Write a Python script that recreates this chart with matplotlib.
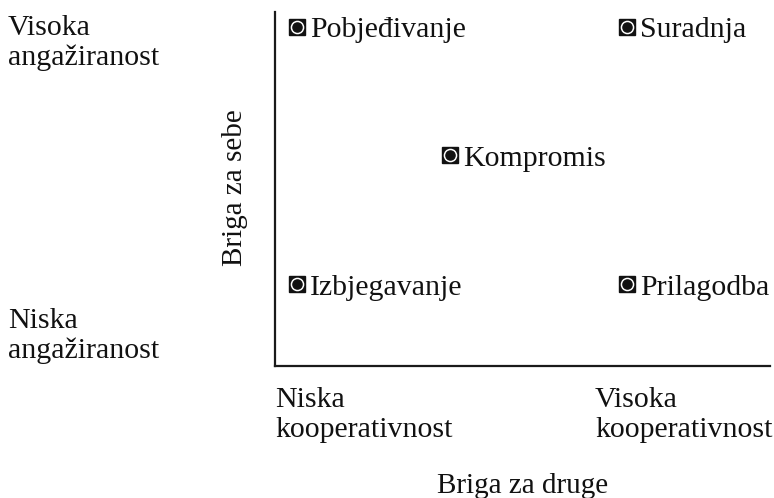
import matplotlib
matplotlib.use("Agg")
import matplotlib.pyplot as plt

plt.rcParams['font.family'] = ['Liberation Serif', 'DejaVu Serif']

styles = ["Pobjeđivanje", "Suradnja", "Kompromis", "Izbjegavanje", "Prilagodba"]
concern_others = [1, 5, 2.86, 1, 5]
concern_self = [5, 5, 3, 1, 1]

y_labels = [["Niska", "angažiranost"], ["Visoka", "angažiranost"]]
x_labels = [["Niska", "kooperativnost"], ["Visoka", "kooperativnost"]]
x_title = "Briga za druge"
y_title = "Briga za sebe"

W, H = 774, 498
fig = plt.figure(figsize=(W / 100, H / 100), dpi=100)
ax = fig.add_axes([275 / W, 1 - 366 / H, (770 - 275) / W, (366 - 12) / H])
ax.set_xlim(0.739, 6.739)
ax.set_ylim(-0.264, 5.225)
for s in ["top", "right"]:
    ax.spines[s].set_visible(False)
for s in ["left", "bottom"]:
    ax.spines[s].set_linewidth(1.6)
    ax.spines[s].set_color("#1a1a1a")
ax.set_xticks([])
ax.set_yticks([])

ax.plot(concern_others, concern_self, ls="none", marker="s", ms=11.5, mfc="#111111", mec="#111111")
ax.plot(concern_others, concern_self, ls="none", marker="o", ms=8.8, mfc="white", mec="white")
ax.plot(concern_others, concern_self, ls="none", marker="o", ms=6.6, mfc="#111111", mec="#111111")

fs = 21.5
col = "#111111"
for name, x, y in zip(styles, concern_others, concern_self):
    ax.annotate(name, (x, y), xytext=(9.5, -7.3), textcoords="offset points",
                ha="left", va="baseline", fontsize=fs, color=col)


def lines(x, y0, texts, ha="left"):
    for i, t in enumerate(texts):
        fig.text(x / W, 1 - (y0 + 30 * i) / H, t, ha=ha, va="baseline", fontsize=fs, color=col)


lines(8, 35, y_labels[1])
lines(8, 328, y_labels[0])
lines(275, 407, x_labels[0])
lines(595, 407, x_labels[1])
fig.text(523 / W, 1 - 493 / H, x_title, ha="center", va="baseline", fontsize=21, color=col)
fig.text(235 / W, 1 - 188 / H, y_title, ha="center", va="center", rotation=90, fontsize=21, color=col)

fig.savefig("out.png", dpi=100)
